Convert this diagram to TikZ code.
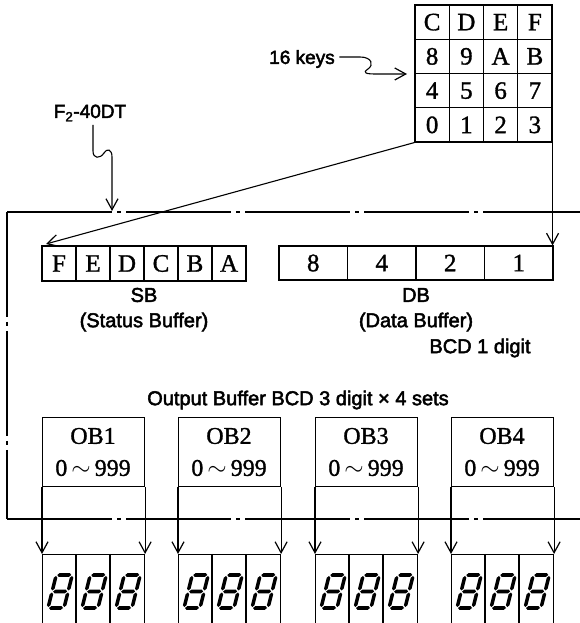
\documentclass[tikz,border=0pt]{standalone}
\usepackage{fontspec}
\setmainfont{Liberation Serif}
\setsansfont{Liberation Sans}
\newfontfamily\labfont[FakeBold=2.5]{Liberation Sans}
\newfontfamily\keyfont[FakeBold=1.2]{Liberation Serif}
\usetikzlibrary{arrows.meta}
\newcommand\segH[3]{\fill (#1,#3)--(#1+1.8,#3+1.8)--(#2-1.8,#3+1.8)--(#2,#3)--(#2-1.8,#3-1.8)--(#1+1.8,#3-1.8)--cycle;}
\newcommand\segV[3]{\fill (#1,#2)--(#1+1.8,#2+1.8)--(#1+1.8,#3-1.8)--(#1,#3)--(#1-1.8,#3-1.8)--(#1-1.8,#2+1.8)--cycle;}
\begin{document}
\begin{tikzpicture}[x=1pt,y=1pt,line width=1.1pt,
  arr/.style={-{Straight Barb[length=11pt,width=12pt,line width=1.2pt]}},
  key/.style={draw,minimum width=34.25pt,minimum height=34.25pt,inner sep=0pt,font=\keyfont\fontsize{25}{27}\selectfont},
  lab/.style={font=\labfont\fontsize{19}{22}\selectfont,inner sep=0pt},
  blab/.style={font=\labfont\fontsize{20}{22}\selectfont,inner sep=0pt},
  serif/.style={font=\keyfont\fontsize{24}{26}\selectfont,inner sep=0pt},
  chain/.style={dash pattern=on 105pt off 5pt on 4pt off 5pt},
  box/.style={draw,inner sep=0pt,anchor=north west},
  sevenseg/.pic={
    \begin{scope}[xslant=0.25]
      \segH{1}{15}{0}
      \segH{1}{15}{16.5}
      \segH{1}{15}{33}
      \segV{0}{1}{15.5}
      \segV{0}{17.5}{32}
      \segV{16}{1}{15.5}
      \segV{16}{17.5}{32}
    \end{scope}}
]
\useasboundingbox (0,0) rectangle (580,623);
\clip (0,0) rectangle (580,623);

% keypad
\foreach \t/\c/\r in {C/0/0,D/1/0,E/2/0,F/3/0,8/0/1,9/1/1,A/2/1,B/3/1,4/0/2,5/1/2,6/2/2,7/3/2,0/0/3,1/1/3,2/2/3,3/3/3}
  \node[key] (k\r\c) at ({415+34.25*\c+17.125},{618-34.25*\r-17.125}) {\t};

% labels with squiggle arrows
\node[lab] (keys) at (302,564) {16 keys};
\coordinate (keytip) at (407,549);
\draw[arr] (keys.east) ++(4pt,2pt) -- (360,566) .. controls (372,566) and (374,558) .. (368,554)
  .. controls (362,550) and (366,549) .. (376,549) -- (keytip);

\node[lab] (f2) at (90,510) {F\textsubscript{2}-40DT};
\coordinate (f2tip) at (112,412);
\draw[arr] (93,498) -- (93,472) .. controls (93,464) and (100,464) .. (104,470)
  .. controls (107,475) and (112,474) .. (112,466) -- (f2tip);

% frame
\draw[chain] (7,411) -- (580,411);
\draw[chain] (7,411) -- (7,104);
\draw[chain] (7,104) -- (580,104);

% status buffer
\foreach \t [count=\i from 0] in {F,E,D,C,B,A}
  \node[key,minimum width=34pt,minimum height=35pt] (sb\i) at ({42+34*\i+17},359.5) {\t};
\node[blab] (sbl) at (144,328) {SB};
\node[blab] (sbl2) at (144,301) {(Status Buffer)};

% data buffer
\foreach \t [count=\i from 0] in {8,4,2,1}
  \node[key,minimum width=68.5pt,minimum height=34pt] (db\i) at ({279+68.5*\i+34.25},360) {\t};
\node[blab] (dbl) at (416,328) {DB};
\node[blab] (dbl2) at (416,301) {(Data Buffer)};
\node[blab] (bcd) at (480,275) {BCD 1 digit};

% keypad connections
\coordinate (sbtip) at (46,379);
\draw[arr] (k30.south west) -- (sbtip);
\draw[arr] (k33.south east) -- (k33.south east |- db3.north);

% output buffers
\node[blab] (obl) at (298,223) {Output Buffer BCD 3 digit × 4 sets};
\foreach \x [count=\i] in {42,178,315,451} {
  \node[box,minimum width=102pt,minimum height=69pt] (ob\i) at (\x,206) {};
  \node[serif] (obt\i) at (\x+51,187) {OB\i};
  \node[serif] (obr\i) at (\x+51,155) {0\,$\sim$\,999};
  \node[box,minimum width=102pt,minimum height=80pt] (dsp\i) at (\x,69) {};
  \draw (\x+34,69) -- (\x+34,0);
  \draw (\x+68,69) -- (\x+68,0);
  \draw[arr] (ob\i.south west) -- (dsp\i.north west);
  \draw[arr] (ob\i.south east) -- (dsp\i.north east);
  \foreach \j in {0,1,2}
    \pic at ({\x+34*\j+6},15) {sevenseg};
}
\end{tikzpicture}
\end{document}
